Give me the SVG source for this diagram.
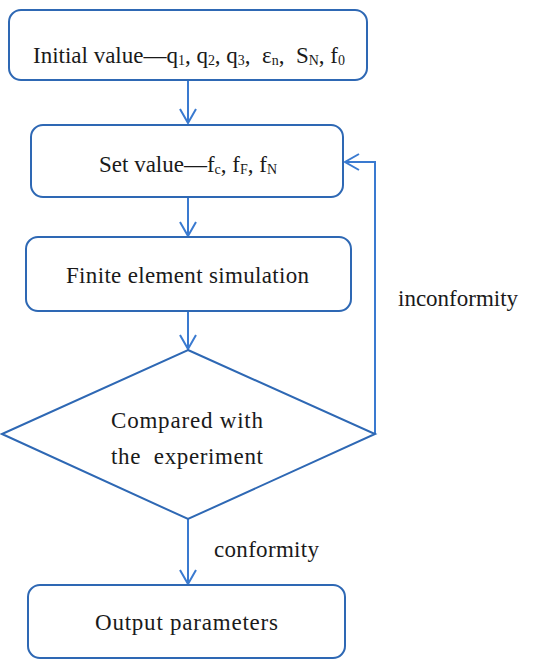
<svg xmlns="http://www.w3.org/2000/svg" width="550" height="668" viewBox="0 0 550 668">
<style>
.box{fill:#fff;stroke:#2e68b4;stroke-width:2}
.conn{fill:none;stroke:#3a7ad0;stroke-width:2}
.t{font-family:"Liberation Serif","DejaVu Serif",serif;font-size:23px;fill:#1a1a1a}
.s{font-size:14px}
</style>
<defs>
<marker id="arr" markerUnits="userSpaceOnUse" markerWidth="20" markerHeight="20" viewBox="-16 -10 20 20" refX="0" refY="0" orient="auto">
<path d="M-14,-8 L0,0 L-14,8" fill="none" stroke="#3a7ad0" stroke-width="2"/>
</marker>
</defs>
<g id="connectors">
<line class="conn" x1="188" y1="80" x2="188" y2="123" marker-end="url(#arr)"/>
<line class="conn" x1="188" y1="197" x2="188" y2="236" marker-end="url(#arr)"/>
<line class="conn" x1="188" y1="311" x2="188" y2="349" marker-end="url(#arr)"/>
<line class="conn" x1="188" y1="519" x2="188" y2="584" marker-end="url(#arr)"/>
<polyline class="conn" points="375,434 375,162 345,162" marker-end="url(#arr)"/>
<text class="t" x="398" y="306">inconformity</text>
<text class="t" x="214" y="557" textLength="105">conformity</text>
</g>
<g id="n1">
<rect class="box" x="9" y="10" width="358" height="70" rx="12"/>
<text class="t" x="33" y="63" textLength="312" xml:space="preserve">Initial value—q<tspan class="s" dy="2">1</tspan><tspan dy="-2">, q</tspan><tspan class="s" dy="2">2</tspan><tspan dy="-2">, q</tspan><tspan class="s" dy="2">3</tspan><tspan dy="-2">,  ε</tspan><tspan class="s" dy="2">n</tspan><tspan dy="-2">,  S</tspan><tspan class="s" dy="2">N</tspan><tspan dy="-2">, f</tspan><tspan class="s" dy="2">0</tspan></text>
</g>
<g id="n2">
<rect class="box" x="31" y="125" width="312" height="72" rx="12"/>
<text class="t" x="99" y="172">Set value—f<tspan class="s" dy="2">c</tspan><tspan dy="-2">, f</tspan><tspan class="s" dy="2">F</tspan><tspan dy="-2">, f</tspan><tspan class="s" dy="2">N</tspan></text>
</g>
<g id="n3">
<rect class="box" x="26" y="237" width="325" height="74" rx="12"/>
<text class="t" x="66" y="283" textLength="243">Finite element simulation</text>
</g>
<g id="n4">
<polygon class="box" points="188,350 375,434 188,519 2,434"/>
<text class="t" x="111" y="428" textLength="152">Compared with</text>
<text class="t" x="111" y="464" textLength="152" xml:space="preserve">the  experiment</text>
</g>
<g id="n5">
<rect class="box" x="28" y="585" width="317" height="73" rx="12"/>
<text class="t" x="95" y="630" textLength="183">Output parameters</text>
</g>
</svg>
